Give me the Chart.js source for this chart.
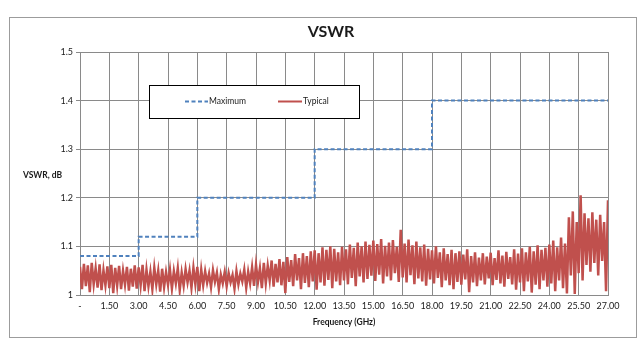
<!DOCTYPE html>
<html>
<head>
<meta charset="utf-8">
<script src="https://cdn.jsdelivr.net/npm/chart.js@4.4.1/dist/chart.umd.min.js"></script>
<style>
  html, body { margin: 0; padding: 0; background: #ffffff; }
  #wrap { position: relative; width: 643px; height: 343px; }
</style>
</head>
<body>
<div id="wrap"><canvas id="c" width="643" height="343"></canvas></div>
<script>
// Frequency grid of the measured trace (GHz)
const freqStart = 0;
const freqStep = 0.1;

// Typical VSWR trace, one value per 0.1 GHz, rows of 1.5 GHz
const typical = [
  1.058, 1.012, 1.064, 1.018, 1.061, 1.006, 1.066, 1.022, 1.055, 1.015, 1.063, 1.010, 1.051, 1.020, 1.059,
  1.014, 1.062, 1.004, 1.056, 1.019, 1.060, 1.012, 1.050, 1.021, 1.058, 1.009, 1.054, 1.017, 1.061, 1.013,
  1.057, 1.020, 1.062, 1.008, 1.052, 1.018, 1.048, 1.012, 1.056, 1.022, 1.050, 1.007, 1.054, 1.016, 1.047,
  1.021, 1.052, 1.013, 1.049, 1.024, 1.055, 1.010, 1.046, 1.019, 1.053, 1.026, 1.050, 1.015, 1.056, 1.022,
  1.058, 1.008, 1.052, 1.020, 1.049, 1.025, 1.044, 1.016, 1.051, 1.027, 1.046, 1.012, 1.042, 1.024, 1.047,
  1.018, 1.045, 1.026, 1.041, 1.013, 1.049, 1.022, 1.044, 1.028, 1.052, 1.015, 1.048, 1.024, 1.057, 1.019,
  1.062, 1.027, 1.055, 1.014, 1.066, 1.024, 1.060, 1.030, 1.071, 1.017, 1.064, 1.026, 1.074, 1.020, 1.068,
  1.004, 1.078, 1.027, 1.072, 1.018, 1.084, 1.030, 1.076, 1.012, 1.086, 1.025, 1.080, 1.016, 1.090, 1.028,
  1.092, 1.011, 1.086, 1.026, 1.098, 1.019, 1.093, 1.031, 1.100, 1.014, 1.095, 1.028, 1.088, 1.020, 1.099,
  1.030, 1.094, 1.022, 1.104, 1.035, 1.097, 1.018, 1.108, 1.038, 1.100, 1.026, 1.110, 1.033, 1.103, 1.040,
  1.112, 1.029, 1.105, 1.042, 1.115, 1.024, 1.101, 1.038, 1.108, 1.030, 1.113, 1.045, 1.099, 1.027, 1.134,
  1.036, 1.106, 1.026, 1.114, 1.041, 1.102, 1.022, 1.110, 1.034, 1.098, 1.028, 1.104, 1.019, 1.095, 1.032,
  1.092, 1.024, 1.100, 1.035, 1.088, 1.016, 1.096, 1.030, 1.084, 1.020, 1.093, 1.012, 1.086, 1.027, 1.090,
  1.021, 1.083, 1.032, 1.094, 1.006, 1.080, 1.026, 1.088, 1.018, 1.077, 1.030, 1.086, 1.022, 1.079, 1.034,
  1.087, 1.020, 1.076, 1.031, 1.092, 1.024, 1.081, 1.017, 1.089, 1.033, 1.078, 1.022, 1.094, 1.011, 1.085,
  1.026, 1.096, 1.008, 1.088, 1.028, 1.099, 1.005, 1.090, 1.021, 1.102, 1.012, 1.093, 1.030, 1.097, 1.017,
  1.104, 1.024, 1.112, 1.008, 1.098, 1.030, 1.118, 1.014, 1.106, 1.003, 1.160, 1.040, 1.172, 1.002, 1.150,
  1.045, 1.205, 1.030, 1.168, 1.062, 1.158, 1.048, 1.170, 1.066, 1.155, 1.040, 1.165, 1.070, 1.150, 1.008,
  1.195
];

// Maximum VSWR specification: band edges (GHz) and the level from each edge on
const maxEdges  = [0, 3, 6, 12, 18, 27];
const maxLevels = [1.08, 1.12, 1.2, 1.3, 1.4, 1.4];

// Axis ranges
const xRange = { min: 0, max: 27, step: 1.5 };
const yRange = { min: 1, max: 1.5, step: 0.1 };

const FONT = 'Lato, "Open Sans", sans-serif';
const GRID = '#8a8a8a';
const RED = '#C0504D';
const BLUE = '#4F81BD';

const maxPoints = maxEdges.map((x, i) => ({ x: x, y: maxLevels[i] }));
const typPoints = typical.map((y, i) => ({ x: +(freqStart + i * freqStep).toFixed(2), y: y }));

// Chart frame, title, horizontal y-axis caption and the boxed legend
const decorations = {
  id: 'decorations',
  beforeDraw(chart) {
    const ctx = chart.ctx;
    ctx.save();
    ctx.fillStyle = '#ffffff';
    ctx.fillRect(0, 0, chart.width, chart.height);
    ctx.strokeStyle = '#9c9c9c';
    ctx.lineWidth = 1;
    ctx.strokeRect(9.5, 17.5, 627, 320);
    ctx.restore();
  },
  afterDraw(chart) {
    const ctx = chart.ctx;
    ctx.save();
    ctx.fillStyle = '#1a1a1a';
    ctx.textBaseline = 'middle';

    ctx.font = 'bold 16px ' + FONT;
    ctx.textAlign = 'center';
    ctx.fillText('VSWR', 331, 32);

    ctx.font = 'bold 8.5px ' + FONT;
    ctx.textAlign = 'left';
    ctx.fillText('VSWR, dB', 23, 175);

    // legend box
    ctx.fillStyle = '#ffffff';
    ctx.fillRect(149.5, 85.5, 210, 33);
    ctx.strokeStyle = '#000000';
    ctx.lineWidth = 1;
    ctx.strokeRect(149.5, 85.5, 210, 33);

    const ds = chart.data.datasets;
    const ly = 101.5;
    ctx.lineWidth = 2;
    ctx.strokeStyle = ds[0].borderColor;
    ctx.setLineDash(ds[0].borderDash);
    ctx.beginPath(); ctx.moveTo(185, ly); ctx.lineTo(208, ly); ctx.stroke();
    ctx.setLineDash([]);
    ctx.strokeStyle = ds[1].borderColor;
    ctx.beginPath(); ctx.moveTo(278, ly); ctx.lineTo(302, ly); ctx.stroke();

    ctx.fillStyle = '#1a1a1a';
    ctx.font = '8.5px ' + FONT;
    ctx.textAlign = 'left';
    ctx.fillText(ds[0].label, 209, ly);
    ctx.fillText(ds[1].label, 303, ly);
    ctx.restore();
  }
};

new Chart(document.getElementById('c'), {
  type: 'line',
  data: {
    datasets: [
      {
        label: 'Maximum',
        data: maxPoints,
        stepped: 'before',
        borderColor: BLUE,
        borderWidth: 2,
        borderDash: [4, 2.5],
        pointRadius: 0,
        fill: false,
        order: 0
      },
      {
        label: 'Typical',
        data: typPoints,
        borderColor: RED,
        borderWidth: 2.5,
        pointRadius: 0,
        tension: 0,
        fill: false,
        order: 1
      }
    ]
  },
  options: {
    responsive: false,
    animation: false,
    devicePixelRatio: 1,
    layout: { padding: { top: 52, right: 35, bottom: 0, left: 0 } },
    plugins: {
      legend: { display: false },
      title: { display: false },
      tooltip: { enabled: false }
    },
    scales: {
      x: {
        type: 'linear',
        min: xRange.min,
        max: xRange.max,
        afterFit(scale) { scale.height = 48; },
        afterBuildTicks(scale) {
          const t = [];
          for (let v = xRange.min; v <= xRange.max + 1e-9; v += xRange.step) t.push({ value: +v.toFixed(2) });
          scale.ticks = t;
        },
        ticks: {
          autoSkip: false,
          maxRotation: 0,
          padding: 6,
          color: '#1a1a1a',
          font: { family: FONT, size: 9 },
          callback: (v) => (v === 0 ? '-' : Number(v).toFixed(2))
        },
        grid: { color: GRID, lineWidth: 1, drawTicks: false },
        border: { color: GRID },
        title: {
          display: true,
          text: 'Frequency (GHz)',
          color: '#1a1a1a',
          font: { family: FONT, size: 8.5, weight: 'bold' },
          padding: { top: 4, bottom: 16 }
        }
      },
      y: {
        min: yRange.min,
        max: yRange.max,
        afterFit(scale) { scale.width = 80; },
        ticks: {
          stepSize: yRange.step,
          padding: 3,
          color: '#1a1a1a',
          font: { family: FONT, size: 9 },
          callback: (v) => String(+Number(v).toFixed(1))
        },
        grid: { color: GRID, lineWidth: 1, tickLength: 4 },
        border: { color: GRID }
      }
    }
  },
  plugins: [decorations]
});
</script>
</body>
</html>
